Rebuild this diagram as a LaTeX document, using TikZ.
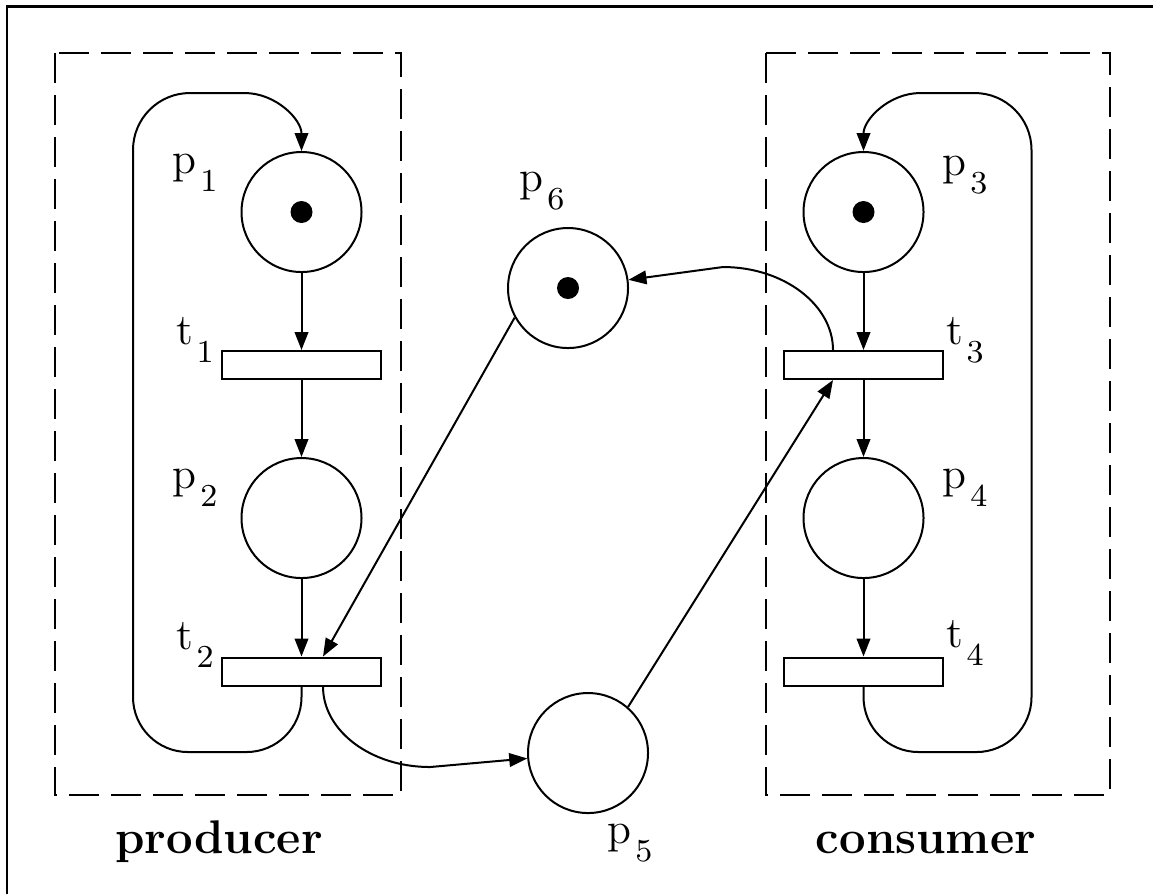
\documentclass[tikz,border=0pt]{standalone}
\usetikzlibrary{arrows.meta,calc}
% label of a place or transition: letter with a lowered index
\newcommand{\sublbl}[2]{#1\kern0.9pt\raisebox{-4.5pt}{\fontsize{8}{9}\selectfont #2}}

\begin{document}
\begin{tikzpicture}[x=0.25pt,y=-0.25pt,line width=0.5pt,
  place/.style={circle,draw,minimum size=30pt,inner sep=0pt},
  trans/.style={rectangle,draw,minimum width=39.75pt,minimum height=7pt,inner sep=0pt},
  lbl/.style={inner sep=0pt,font=\fontsize{11}{13}\selectfont},
  grouplbl/.style={inner sep=0pt,anchor=base,font=\fontsize{11.8}{14}\selectfont\bfseries},
  group/.style={draw,dash pattern=on 7.5pt off 3pt},
  flow/.style={-{Triangle[length=4.5pt,width=3.4pt]}},
]
\useasboundingbox (0,0) rectangle (1153,894);

% frame edges
\draw[line width=0.7pt] (7,894) -- (7,6.5) -- (1153,6.5);

% producer and consumer regions
\draw[group] (55,53) rectangle (401,795);
\draw[group] (766,53) rectangle (1110,795);

% places
\node[place] (p1) at (301.5,212) {};
\node[place] (p2) at (301.5,518) {};
\node[place] (p3) at (863.5,212) {};
\node[place] (p4) at (863.5,518) {};
\node[place] (p5) at (588,753) {};
\node[place] (p6) at (568,288) {};

% tokens
\fill (p1.center) circle[radius=11];
\fill (p3.center) circle[radius=11];
\fill (p6.center) circle[radius=11];

% transitions
\node[trans] (t1) at (301.5,365) {};
\node[trans] (t2) at (301.5,671.5) {};
\node[trans] (t3) at (863.5,365) {};
\node[trans] (t4) at (863.5,671.5) {};

% labels
\node[lbl] (lp1) at (195,173) {\sublbl{p}{1}};
\node[lbl] (lt1) at (195,340) {\sublbl{t}{1}};
\node[lbl] (lp2) at (195,488) {\sublbl{p}{2}};
\node[lbl] (lt2) at (195,645) {\sublbl{t}{2}};
\node[lbl] (lp3) at (965,175) {\sublbl{p}{3}};
\node[lbl] (lt3) at (965,340) {\sublbl{t}{3}};
\node[lbl] (lp4) at (965,488) {\sublbl{p}{4}};
\node[lbl] (lt4) at (965,643) {\sublbl{t}{4}};
\node[lbl] (lp6) at (542,191) {\sublbl{p}{6}};
\node[lbl] (lp5) at (630,843) {\sublbl{p}{5}};

\node[grouplbl] (prod) at (219,853) {producer};
\node[grouplbl] (cons) at (926,853) {consumer};

% arcs inside the producer
\draw[flow] (p1) -- (t1);
\draw[flow] (t1) -- (p2);
\draw[flow] (p2) -- (t2);
\draw[flow] (t2.south) -- (301.5,697)
  .. controls (301.5,727.4) and (276.9,752) .. (246.5,752) -- (188,752)
  .. controls (157.6,752) and (133,727.4) .. (133,697) -- (133,150)
  .. controls (133,118.5) and (158.5,93) .. (190,93) -- (244.5,93)
  .. controls (276,93) and (301.5,119.5) .. (p1.north);

% arcs inside the consumer
\draw[flow] (p3) -- (t3);
\draw[flow] (t3) -- (p4);
\draw[flow] (p4) -- (t4);
\draw[flow] (t4.south) -- (863.5,697)
  .. controls (863.5,727.4) and (888.1,752) .. (918.5,752) -- (976.5,752)
  .. controls (1006.9,752) and (1031.5,727.4) .. (1031.5,697) -- (1031.5,150)
  .. controls (1031.5,118.5) and (1006,93) .. (974.5,93) -- (920.5,93)
  .. controls (889,93) and (863.5,119.5) .. (p3.north);

% buffer arcs
\coordinate (t2in)  at ($(t2.north)+(21.5,0)$);
\coordinate (t2out) at ($(t2.south)+(21.5,0)$);
\coordinate (t3in)  at ($(t3.south)+(-30.5,0)$);
\coordinate (t3out) at ($(t3.north)+(-30.5,0)$);
\coordinate (bend5) at (430,767);
\coordinate (bend6) at (723,267);

\draw[flow] (p6.209) -- (t2in);
\draw[flow] (p5.49) -- (t3in);
\draw[flow] (t2out) .. controls (323,731) and (371,767) .. (bend5) -- (p5);
\draw[flow] (t3out) .. controls (833,305) and (784,267) .. (bend6) -- (p6);
\end{tikzpicture}
\end{document}
